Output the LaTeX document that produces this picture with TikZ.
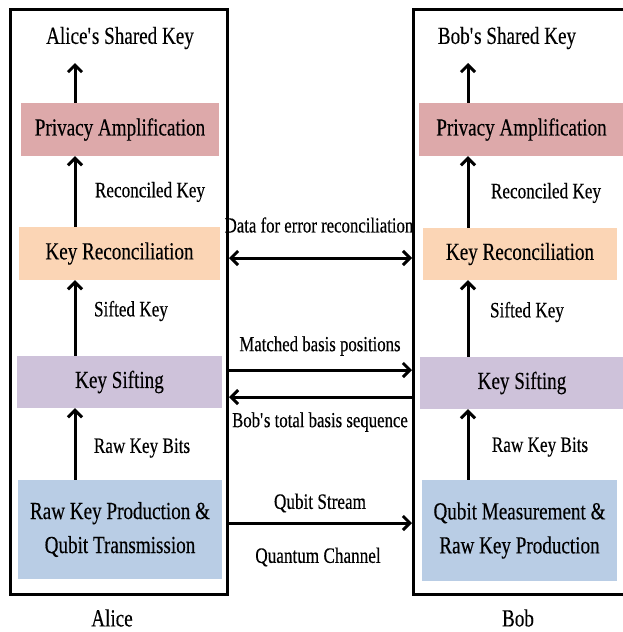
\documentclass[tikz,border=0pt]{standalone}
\usepackage{fontspec}
\setmainfont{Liberation Serif}[FakeStretch=0.78,FakeBold=0.3]
\usetikzlibrary{arrows.meta}
\definecolor{pacol}{HTML}{DDA9AA}
\definecolor{krcol}{HTML}{FBD5B5}
\definecolor{kscol}{HTML}{CEC2DA}
\definecolor{rkcol}{HTML}{B9CDE5}
\newcommand{\apos}{\textquotesingle}
\tikzset{
  frame/.style={draw, line width=3pt, inner sep=0pt, anchor=north west},
  box/.style={inner sep=0pt, align=center, font=\fontsize{24.5}{34}\selectfont},
  lbl/.style={inner sep=1pt, font=\fontsize{22}{24}\selectfont},
  mlbl/.style={inner sep=1pt, font=\fontsize{21.5}{22}\selectfont},
  arr/.style={line width=3pt, -{Straight Barb[length=7pt,width=14pt,line width=3pt]}},
  darr/.style={line width=3pt, {Straight Barb[length=7pt,width=14pt,line width=3pt]}-{Straight Barb[length=7pt,width=14pt,line width=3pt]}}
}
\begin{document}
\begin{tikzpicture}[x=1pt,y=-1pt]
\useasboundingbox (0,0) rectangle (622,632);
% frames
\node[frame, minimum width=217pt, minimum height=585pt] (aF) at (9,8) {};
\node[frame, minimum width=240pt, minimum height=585pt] (bF) at (412,8) {};
% Alice boxes
\node[box, fill=pacol, minimum width=198pt, minimum height=53pt] (aPA) at (120,129.5) {Privacy Amplification};
\node[box, fill=krcol, minimum width=201pt, minimum height=53pt] (aKR) at (119.5,253.5) {Key Reconciliation};
\node[box, fill=kscol, minimum width=205pt, minimum height=52pt] (aKS) at (119.5,382) {Key Sifting};
\node[box, fill=rkcol, minimum width=204pt, minimum height=99pt] (aRK) at (120,529.5) {Raw Key Production \&\\Qubit Transmission};
% Bob boxes
\node[box, fill=pacol, minimum width=205pt, minimum height=53pt] (bPA) at (521.5,129.5) {Privacy Amplification};
\node[box, fill=krcol, minimum width=194pt, minimum height=52pt] (bKR) at (520,254) {Key Reconciliation};
\node[box, fill=kscol, minimum width=204pt, minimum height=52pt] (bKS) at (522,383) {Key Sifting};
\node[box, fill=rkcol, minimum width=195pt, minimum height=101pt] (bRK) at (519.5,530.5) {Qubit Measurement \&\\Raw Key Production};
% top texts
\node[box] (aSK) at (120,38) {Alice\apos s Shared Key};
\node[box] (bSK) at (507,38) {Bob\apos s Shared Key};
\coordinate (ax) at (75,0);
\coordinate (bx) at (468,0);
\coordinate (aTop) at (75,63);
\coordinate (bTop) at (468,63);
% vertical arrows Alice
\draw[arr] (aPA.north -| ax) -- (aTop);
\draw[arr] (aKR.north -| ax) -- (aPA.south -| ax);
\draw[arr] (aKS.north -| ax) -- (aKR.south -| ax);
\draw[arr] (aRK.north -| ax) -- (aKS.south -| ax);
% vertical arrows Bob
\draw[arr] (bPA.north -| bx) -- (bTop);
\draw[arr] (bKR.north -| bx) -- (bPA.south -| bx);
\draw[arr] (bKS.north -| bx) -- (bKR.south -| bx);
\draw[arr] (bRK.north -| bx) -- (bKS.south -| bx);
% side labels
\node[lbl] (aRCl) at (150,192) {Reconciled Key};
\node[lbl] (bRCl) at (546,193) {Reconciled Key};
\node[lbl] (aSfl) at (131,311) {Sifted Key};
\node[lbl] (bSfl) at (527,312) {Sifted Key};
\node[lbl] (aRBl) at (142,448) {Raw Key Bits};
\node[lbl] (bRBl) at (540,447) {Raw Key Bits};
% middle arrows
\coordinate (y1) at (0,258);
\coordinate (y2) at (0,370);
\coordinate (y3) at (0,397);
\coordinate (y4) at (0,523);
\draw[darr] (aF.east |- y1) -- (bF.west |- y1);
\draw[arr] (aF.east |- y2) -- (bF.west |- y2);
\draw[arr] (bF.west |- y3) -- (aF.east |- y3);
\draw[arr] (aF.east |- y4) -- (bF.west |- y4);
\node[mlbl] (m1) at (319,225) {Data for error reconciliation};
\node[mlbl] (m2) at (320,346) {Matched basis positions};
\node[mlbl] (m3) at (320,422) {Bob\apos s total basis sequence};
\node[lbl] (m4) at (320,503) {Qubit Stream};
\node[lbl] (m5) at (318,557) {Quantum Channel};
% bottom labels
\node[box] (aName) at (112,618) {Alice};
\node[box] (bName) at (518,618) {Bob};
\end{tikzpicture}
\end{document}
